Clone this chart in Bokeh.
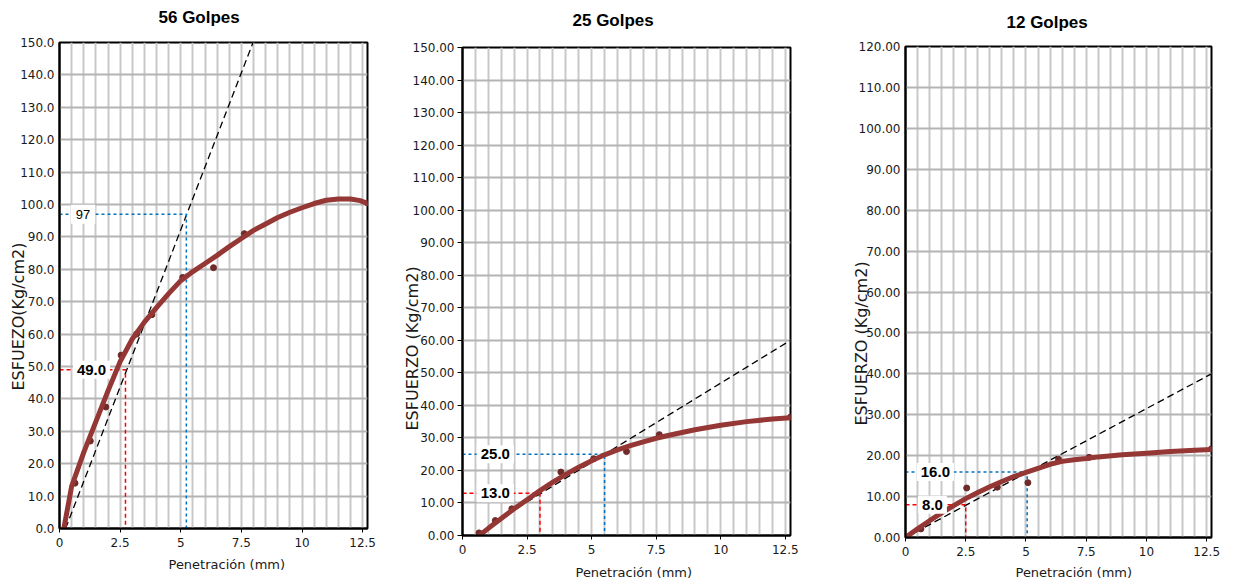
from bokeh.plotting import figure
from bokeh.layouts import row
from bokeh.models import (FixedTicker, NumeralTickFormatter, CustomJSTickFormatter, Label,
                          Range1d, Title)
from bokeh.embed import file_html
from bokeh.resources import INLINE

# ---------------- data ----------------
titles = ["56 Golpes", "25 Golpes", "12 Golpes"]
y_labels = ["ESFUEZO(Kg/cm2)", "ESFUERZO (Kg/cm2)", "ESFUERZO (Kg/cm2)"]
x_label = "Penetración (mm)"

x_ticks = [0, 2.5, 5, 7.5, 10, 12.5]
x_grid = [0.5, 1.0, 1.5, 2.0, 2.5, 3.0, 3.5, 4.0, 4.5, 5.0, 5.5, 6.0, 6.5, 7.0,
          7.5, 8.0, 8.5, 9.0, 9.5, 10.0, 10.5, 11.0, 11.5, 12.0, 12.5]
y_ticks_150 = [0, 10, 20, 30, 40, 50, 60, 70, 80, 90, 100, 110, 120, 130, 140, 150]
y_ticks_120 = [0, 10, 20, 30, 40, 50, 60, 70, 80, 90, 100, 110, 120]

# 56 golpes
p56_pen = [0.64, 1.27, 1.91, 2.54, 3.18, 3.81, 5.08, 6.35, 7.62, 12.70]
p56_esf = [14.0, 27.0, 37.5, 53.5, 60.0, 66.0, 77.5, 80.5, 91.0, 100.5]
c56_x = [0.18, 0.5, 1.0, 1.5, 2.0, 2.5, 3.0, 3.5, 4.0, 4.5, 5.0, 5.5, 6.0, 6.5,
         7.0, 7.5, 8.0, 8.5, 9.0, 9.5, 10.0, 10.5, 11.0, 11.5, 12.0, 12.4, 12.7]
c56_y = [0.0, 13.0, 23.5, 33.0, 42.5, 51.5, 58.5, 63.7, 68.2, 72.5, 76.5, 79.3, 81.8, 84.3,
         87.0, 89.5, 92.0, 94.0, 96.0, 97.6, 99.0, 100.3, 101.3, 101.7, 101.7, 101.2, 100.3]
t56_x = [0.25, 7.98]
t56_y = [0.0, 150.0]
r56_x = [2.72, 5.23]
r56_y = [49.0, 97.0]
r56_txt = ["49.0", "97"]

# 25 golpes
p25_pen = [0.64, 1.27, 1.91, 3.81, 5.08, 6.35, 7.62, 12.70]
p25_esf = [0.8, 4.6, 8.2, 19.5, 23.6, 25.8, 31.0, 36.4]
c25_x = [0.65, 1.0, 1.5, 2.0, 2.5, 3.0, 3.5, 4.0, 4.5, 5.0, 5.5, 6.0, 6.5, 7.0,
         7.5, 8.0, 9.0, 10.0, 11.0, 12.0, 12.7]
c25_y = [0.0, 2.2, 5.2, 8.2, 11.0, 13.8, 16.4, 18.8, 21.0, 23.0, 24.8, 26.3, 27.6, 28.8,
         29.9, 30.8, 32.5, 33.9, 35.0, 35.8, 36.2]
t25_x = [1.4, 12.7]
t25_y = [5.0, 60.0]
r25_x = [3.0, 5.5]
r25_y = [13.0, 25.0]
r25_txt = ["13.0", "25.0"]

# 12 golpes
p12_pen = [0.64, 2.54, 3.81, 5.08, 6.35, 7.62, 12.70]
p12_esf = [2.1, 12.1, 12.3, 13.4, 19.1, 19.6, 21.7]
c12_x = [0.0, 0.5, 1.0, 1.5, 2.0, 2.5, 3.0, 3.5, 4.0, 4.5, 5.0, 5.5, 6.0, 6.5,
         7.0, 7.5, 8.0, 9.0, 10.0, 11.0, 12.0, 12.7]
c12_y = [0.0, 2.1, 4.1, 6.0, 7.8, 9.5, 11.0, 12.4, 13.7, 14.9, 15.9, 16.9, 17.9, 18.6,
         19.0, 19.3, 19.7, 20.2, 20.6, 21.0, 21.3, 21.5]
t12_x = [0.0, 12.7]
t12_y = [0.0, 40.0]
r12_x = [2.5, 5.05]
r12_y = [8.0, 16.0]
r12_txt = ["8.0", "16.0"]

CURVE = "#953735"
DOT = "#6f2a2a"
RED = "#ff0000"
BLUE = "#0070c0"
TXT = "#1a1a1a"

BT = 42   # common top border (rows share plot borders)
BB = 46   # common bottom border


def panel(title, ylab, ymax, yticks, yfmt, pen, esf, cx, cy, tx, ty, rx, ry, rtxt, g,
          bold_flags, tick_out):
    p = figure(width=g["bl"] + g["fw"] + g["br"], height=g["fbottom"] - g["mt"] + BB,
               min_border_left=g["bl"], min_border_right=g["br"],
               min_border_top=BT, min_border_bottom=BB, margin=(g["mt"], 0, 0, 0),
               x_range=Range1d(0, 12.7), y_range=Range1d(0, ymax),
               output_backend="svg", toolbar_location=None)
    p.add_layout(Title(text=title + "\n", text_font="Liberation Sans", text_font_size="17px",
                       text_font_style="bold", text_color="#000000", align="left",
                       offset=g["toff"], standoff=g["ts"], vertical_align="top"), "above")
    p.outline_line_color = "#000000"
    p.outline_line_width = 2
    p.background_fill_color = "white"
    p.border_fill_color = "white"

    xa = p.xaxis[0]
    xa.ticker = FixedTicker(ticks=x_ticks, minor_ticks=x_grid)
    xa.formatter = CustomJSTickFormatter(code="return tick.toString()")
    ya = p.yaxis[0]
    ya.ticker = FixedTicker(ticks=yticks)
    ya.formatter = NumeralTickFormatter(format=yfmt)
    for ax in (xa, ya):
        ax.axis_line_color = "#000000"
        ax.axis_line_width = 2
        ax.major_label_text_font = "DejaVu Sans"
        ax.major_label_text_font_size = "12px"
        ax.major_label_text_color = TXT
        ax.minor_tick_line_color = None
        ax.major_tick_in = 0
        ax.major_tick_line_color = "#000000"
    xa.major_tick_out = 4
    xa.major_label_standoff = 5
    ya.major_tick_out = tick_out
    ya.major_label_standoff = 5 if tick_out == 0 else 3

    p.xgrid[0].ticker = FixedTicker(ticks=x_grid)
    p.xgrid[0].grid_line_color = "#c8c8c8"
    p.xgrid[0].grid_line_width = 2
    p.ygrid[0].ticker = FixedTicker(ticks=yticks)
    p.ygrid[0].grid_line_color = "#b4b4b4"
    p.ygrid[0].grid_line_width = 2

    # axis titles (outside the frame)
    p.add_layout(Title(text=ylab, text_font="DejaVu Sans", text_font_size="16px",
                       text_font_style="normal", text_color=TXT, align="left",
                       offset=g["yoff"], standoff=g["ys"]), "left")
    p.add_layout(Title(text="\n" + x_label, text_font="DejaVu Sans", text_font_size="13px",
                       text_font_style="normal", text_color=TXT, align="left",
                       offset=g["xoff"], standoff=g["xs"], vertical_align="top"), "below")

    # tangent line
    p.line(tx, ty, line_color="#000000", line_width=1.3, line_dash="7 4")
    # reference lines
    cols = [RED, BLUE]
    for i in range(2):
        p.line([0, rx[i], rx[i]], [ry[i], ry[i], 0], line_color=cols[i], line_width=1.5,
               line_dash="4 3" if i == 0 else "3 3")
    # points and fitted curve
    p.scatter(pen, esf, size=6, color=DOT)
    p.line(cx, cy, line_color=CURVE, line_width=5, line_cap="round", line_join="round")

    # value labels
    for i in range(2):
        lx, ly, size, pad = g["labs"][i]
        p.add_layout(Label(x=lx, y=ly, text=rtxt[i], text_align="center", text_baseline="middle",
                           text_font="Liberation Sans", text_font_size=size,
                           text_font_style="bold" if bold_flags[i] else "normal",
                           text_color="#000000", background_fill_color="white", padding=pad))
    return p


g1 = dict(bl=59, fw=308, br=20, fbottom=528, mt=0, toff=99, ts=-10,
          yoff=138, ys=-21, xoff=109, xs=-16,
          labs=[(1.32, 49.0, "15px", 4), (0.97, 97.0, "13px", 5)])
g2 = dict(bl=75, fw=328, br=40, fbottom=535, mt=5, toff=110, ts=-6,
          yoff=105, ys=-24, xoff=113, xs=-14,
          labs=[(1.27, 13.0, "15px", 4), (1.27, 25.0, "15px", 4)])
g3 = dict(bl=75, fw=306, br=15, fbottom=537, mt=4, toff=101, ts=-12,
          yoff=112, ys=-30, xoff=110, xs=-18,
          labs=[(1.12, 8.0, "15px", 4), (1.24, 16.0, "15px", 4)])

p1 = panel(titles[0], y_labels[0], 150, y_ticks_150, "0.0", p56_pen, p56_esf, c56_x, c56_y,
           t56_x, t56_y, r56_x, r56_y, r56_txt, g1, [True, False], 0)
p2 = panel(titles[1], y_labels[1], 150, y_ticks_150, "0.00", p25_pen, p25_esf, c25_x, c25_y,
           t25_x, t25_y, r25_x, r25_y, r25_txt, g2, [True, True], 5)
p3 = panel(titles[2], y_labels[2], 120, y_ticks_120, "0.00", p12_pen, p12_esf, c12_x, c12_y,
           t12_x, t12_y, r12_x, r12_y, r12_txt, g3, [True, True], 0)

layout = row(p1, p2, p3)
open("out.html", "w").write(file_html(layout, INLINE))
